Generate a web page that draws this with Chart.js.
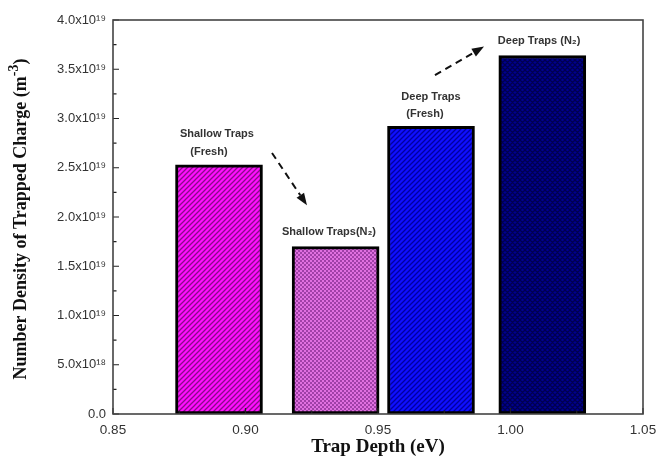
<!DOCTYPE html>
<html>
<head>
<meta charset="utf-8">
<script src="https://cdn.jsdelivr.net/npm/chart.js@4.4.0/dist/chart.umd.min.js"></script>
<style>
  html, body { margin: 0; padding: 0; background: #fff; }
  #wrap { width: 670px; height: 464px; }
</style>
</head>
<body>
<div id="wrap"><canvas id="trapChart" width="670" height="464"></canvas></div>
<script>
// Trap depth (eV) and trapped charge density (m^-3)
const trapDepth = [0.890, 0.934, 0.970, 1.012];
const chargeDensity = [2.53e19, 1.70e19, 2.92e19, 3.64e19];
const barNames = ["Shallow Traps (Fresh)", "Shallow Traps (N2)", "Deep Traps (Fresh)", "Deep Traps (N2)"];

const xTicks = [0.85, 0.90, 0.95, 1.00, 1.05];
const yTicks = [0, 0.5e19, 1.0e19, 1.5e19, 2.0e19, 2.5e19, 3.0e19, 3.5e19, 4.0e19];
const yTickLabels = ["0.0", "5.0x10¹⁸", "1.0x10¹⁹", "1.5x10¹⁹", "2.0x10¹⁹",
                     "2.5x10¹⁹", "3.0x10¹⁹", "3.5x10¹⁹", "4.0x10¹⁹"];
const yTitle = ["Number Density of Trapped Charge (m", "-3", ")"];

// text notes and arrows, in data units
const notes = [
    { text: "Shallow Traps", x: 0.8892, y: 2.84e19 },
    { text: "(Fresh)", x: 0.8862, y: 2.66e19 },
    { text: "Shallow Traps(N₂)", x: 0.9315, y: 1.85e19 },
    { text: "Deep Traps", x: 0.9700, y: 3.22e19 },
    { text: "(Fresh)", x: 0.9677, y: 3.05e19 },
    { text: "Deep Traps (N₂)", x: 1.0108, y: 3.79e19 }
];
const arrows = [
    { x0: 0.9100, y0: 2.65e19, x1: 0.9232, y1: 2.12e19 },
    { x0: 0.9715, y0: 3.44e19, x1: 0.9900, y1: 3.73e19 }
];

// hatch fills
function makePattern(kind, bg, fg) {
    const c = document.createElement('canvas');
    const s = kind === 'check' ? 4 : 5;
    c.width = s; c.height = s;
    const g = c.getContext('2d');
    g.fillStyle = bg;
    g.fillRect(0, 0, s, s);
    g.fillStyle = fg;
    g.strokeStyle = fg;
    if (kind === 'check') {
        g.fillRect(0, 0, 2, 2);
        g.fillRect(2, 2, 2, 2);
    } else {
        g.lineWidth = 1.3;
        g.beginPath();
        g.moveTo(-1, s + 1); g.lineTo(s + 1, -1);
        g.moveTo(-1, 1); g.lineTo(1, -1);
        g.moveTo(s - 1, s + 1); g.lineTo(s + 1, s - 1);
        if (kind === 'cross') {
            g.moveTo(-1, -1); g.lineTo(s + 1, s + 1);
            g.moveTo(s - 1, -1); g.lineTo(s + 1, 1);
            g.moveTo(-1, s - 1); g.lineTo(1, s + 1);
        }
        g.stroke();
    }
    return g.createPattern(c, 'repeat');
}

const fills = [
    makePattern('diag', '#ff10ff', '#8a0a8a'),
    makePattern('check', '#e070e0', '#a040a8'),
    makePattern('diag', '#1010ff', '#0000a0'),
    makePattern('cross', '#000090', '#000050')
];

const frameAndNotes = {
    id: 'frameAndNotes',
    afterDatasetsDraw(chart) {
        const ctx = chart.ctx;
        const a = chart.chartArea;
        const xs = chart.scales.x, ys = chart.scales.y;
        ctx.save();
        // inward ticks
        ctx.strokeStyle = '#222';
        ctx.lineWidth = 1.2;
        ctx.beginPath();
        for (let i = 0; i <= 16; i++) {
            const py = ys.getPixelForValue(i * 0.25e19);
            const len = i % 2 === 0 ? 6 : 3.5;
            ctx.moveTo(a.left, py); ctx.lineTo(a.left + len, py);
        }
        for (let i = 0; i <= 8; i++) {
            const px = xs.getPixelForValue(0.85 + i * 0.025);
            const len = i % 2 === 0 ? 6 : 3.5;
            ctx.moveTo(px, a.bottom); ctx.lineTo(px, a.bottom - len);
        }
        ctx.stroke();
        // box
        ctx.strokeStyle = '#444';
        ctx.lineWidth = 1.6;
        ctx.strokeRect(a.left, a.top, a.right - a.left, a.bottom - a.top);

        // notes
        ctx.fillStyle = '#333';
        ctx.font = 'bold 11px "Liberation Sans", Arial, sans-serif';
        ctx.textAlign = 'center';
        ctx.textBaseline = 'middle';
        notes.forEach(n => {
            ctx.fillText(n.text, xs.getPixelForValue(n.x), ys.getPixelForValue(n.y));
        });

        // dashed arrows
        ctx.strokeStyle = '#111';
        ctx.fillStyle = '#111';
        ctx.lineWidth = 2;
        arrows.forEach(ar => {
            const x0 = xs.getPixelForValue(ar.x0), y0 = ys.getPixelForValue(ar.y0);
            const x1 = xs.getPixelForValue(ar.x1), y1 = ys.getPixelForValue(ar.y1);
            const ang = Math.atan2(y1 - y0, x1 - x0);
            const head = 12, half = 4.5;
            const bx = x1 - head * Math.cos(ang), by = y1 - head * Math.sin(ang);
            ctx.setLineDash([7, 5]);
            ctx.beginPath();
            ctx.moveTo(x0, y0);
            ctx.lineTo(bx, by);
            ctx.stroke();
            ctx.setLineDash([]);
            ctx.beginPath();
            ctx.moveTo(x1, y1);
            ctx.lineTo(bx + half * Math.sin(ang), by - half * Math.cos(ang));
            ctx.lineTo(bx - half * Math.sin(ang), by + half * Math.cos(ang));
            ctx.closePath();
            ctx.fill();
        });

        // y axis title with superscript
        const serif = '"Liberation Serif", "Times New Roman", serif';
        const big = 'bold 18px ' + serif, small = 'bold 14px ' + serif;
        ctx.font = big;
        const w0 = ctx.measureText(yTitle[0]).width;
        const w2 = ctx.measureText(yTitle[2]).width;
        ctx.font = small;
        const w1 = ctx.measureText(yTitle[1]).width;
        const total = w0 + w1 + w2;
        ctx.translate(21, (a.top + a.bottom) / 2 + 2);
        ctx.rotate(-Math.PI / 2);
        ctx.fillStyle = '#111';
        ctx.textAlign = 'left';
        ctx.textBaseline = 'middle';
        let px = -total / 2;
        ctx.font = big;
        ctx.fillText(yTitle[0], px, 0);
        px += w0;
        ctx.font = small;
        ctx.fillText(yTitle[1], px, -7);
        px += w1;
        ctx.font = big;
        ctx.fillText(yTitle[2], px, 0);
        ctx.restore();
    }
};

new Chart("trapChart", {
    type: "bar",
    data: {
        datasets: [{
            label: "Trapped charge",
            data: trapDepth.map((x, i) => ({ x: x, y: chargeDensity[i] })),
            backgroundColor: fills,
            borderColor: "#000",
            borderWidth: 3,
            borderSkipped: false,
            barThickness: 87
        }]
    },
    options: {
        responsive: false,
        animation: false,
        layout: { padding: { top: 20, right: 27, left: 0, bottom: 0 } },
        plugins: {
            legend: { display: false },
            tooltip: { enabled: false }
        },
        scales: {
            x: {
                type: "linear",
                min: 0.85,
                max: 1.05,
                offset: false,
                afterBuildTicks: s => { s.ticks = xTicks.map(v => ({ value: v })); },
                afterFit: s => { s.height = 50; },
                grid: { display: false, drawTicks: false },
                border: { display: false },
                ticks: {
                    padding: 8,
                    color: "#333",
                    font: { family: '"Liberation Sans", Arial, sans-serif', size: 13.5 },
                    callback: v => v.toFixed(2),
                    maxRotation: 0
                },
                title: {
                    display: true,
                    text: "Trap Depth (eV)",
                    color: "#111",
                    font: { family: '"Liberation Serif", "Times New Roman", serif', size: 19, weight: "bold" },
                    padding: { top: 0, bottom: 6 }
                }
            },
            y: {
                min: 0,
                max: 4e19,
                afterBuildTicks: s => { s.ticks = yTicks.map(v => ({ value: v })); },
                afterFit: s => { s.width = 113; },
                grid: { display: false, drawTicks: false },
                border: { display: false },
                ticks: {
                    padding: 7,
                    color: "#333",
                    font: { family: '"Liberation Sans", Arial, sans-serif', size: 13 },
                    callback: (v, i) => yTickLabels[i]
                },
                title: { display: false, text: yTitle.join("") }
            }
        }
    },
    plugins: [frameAndNotes]
});
</script>
</body>
</html>
